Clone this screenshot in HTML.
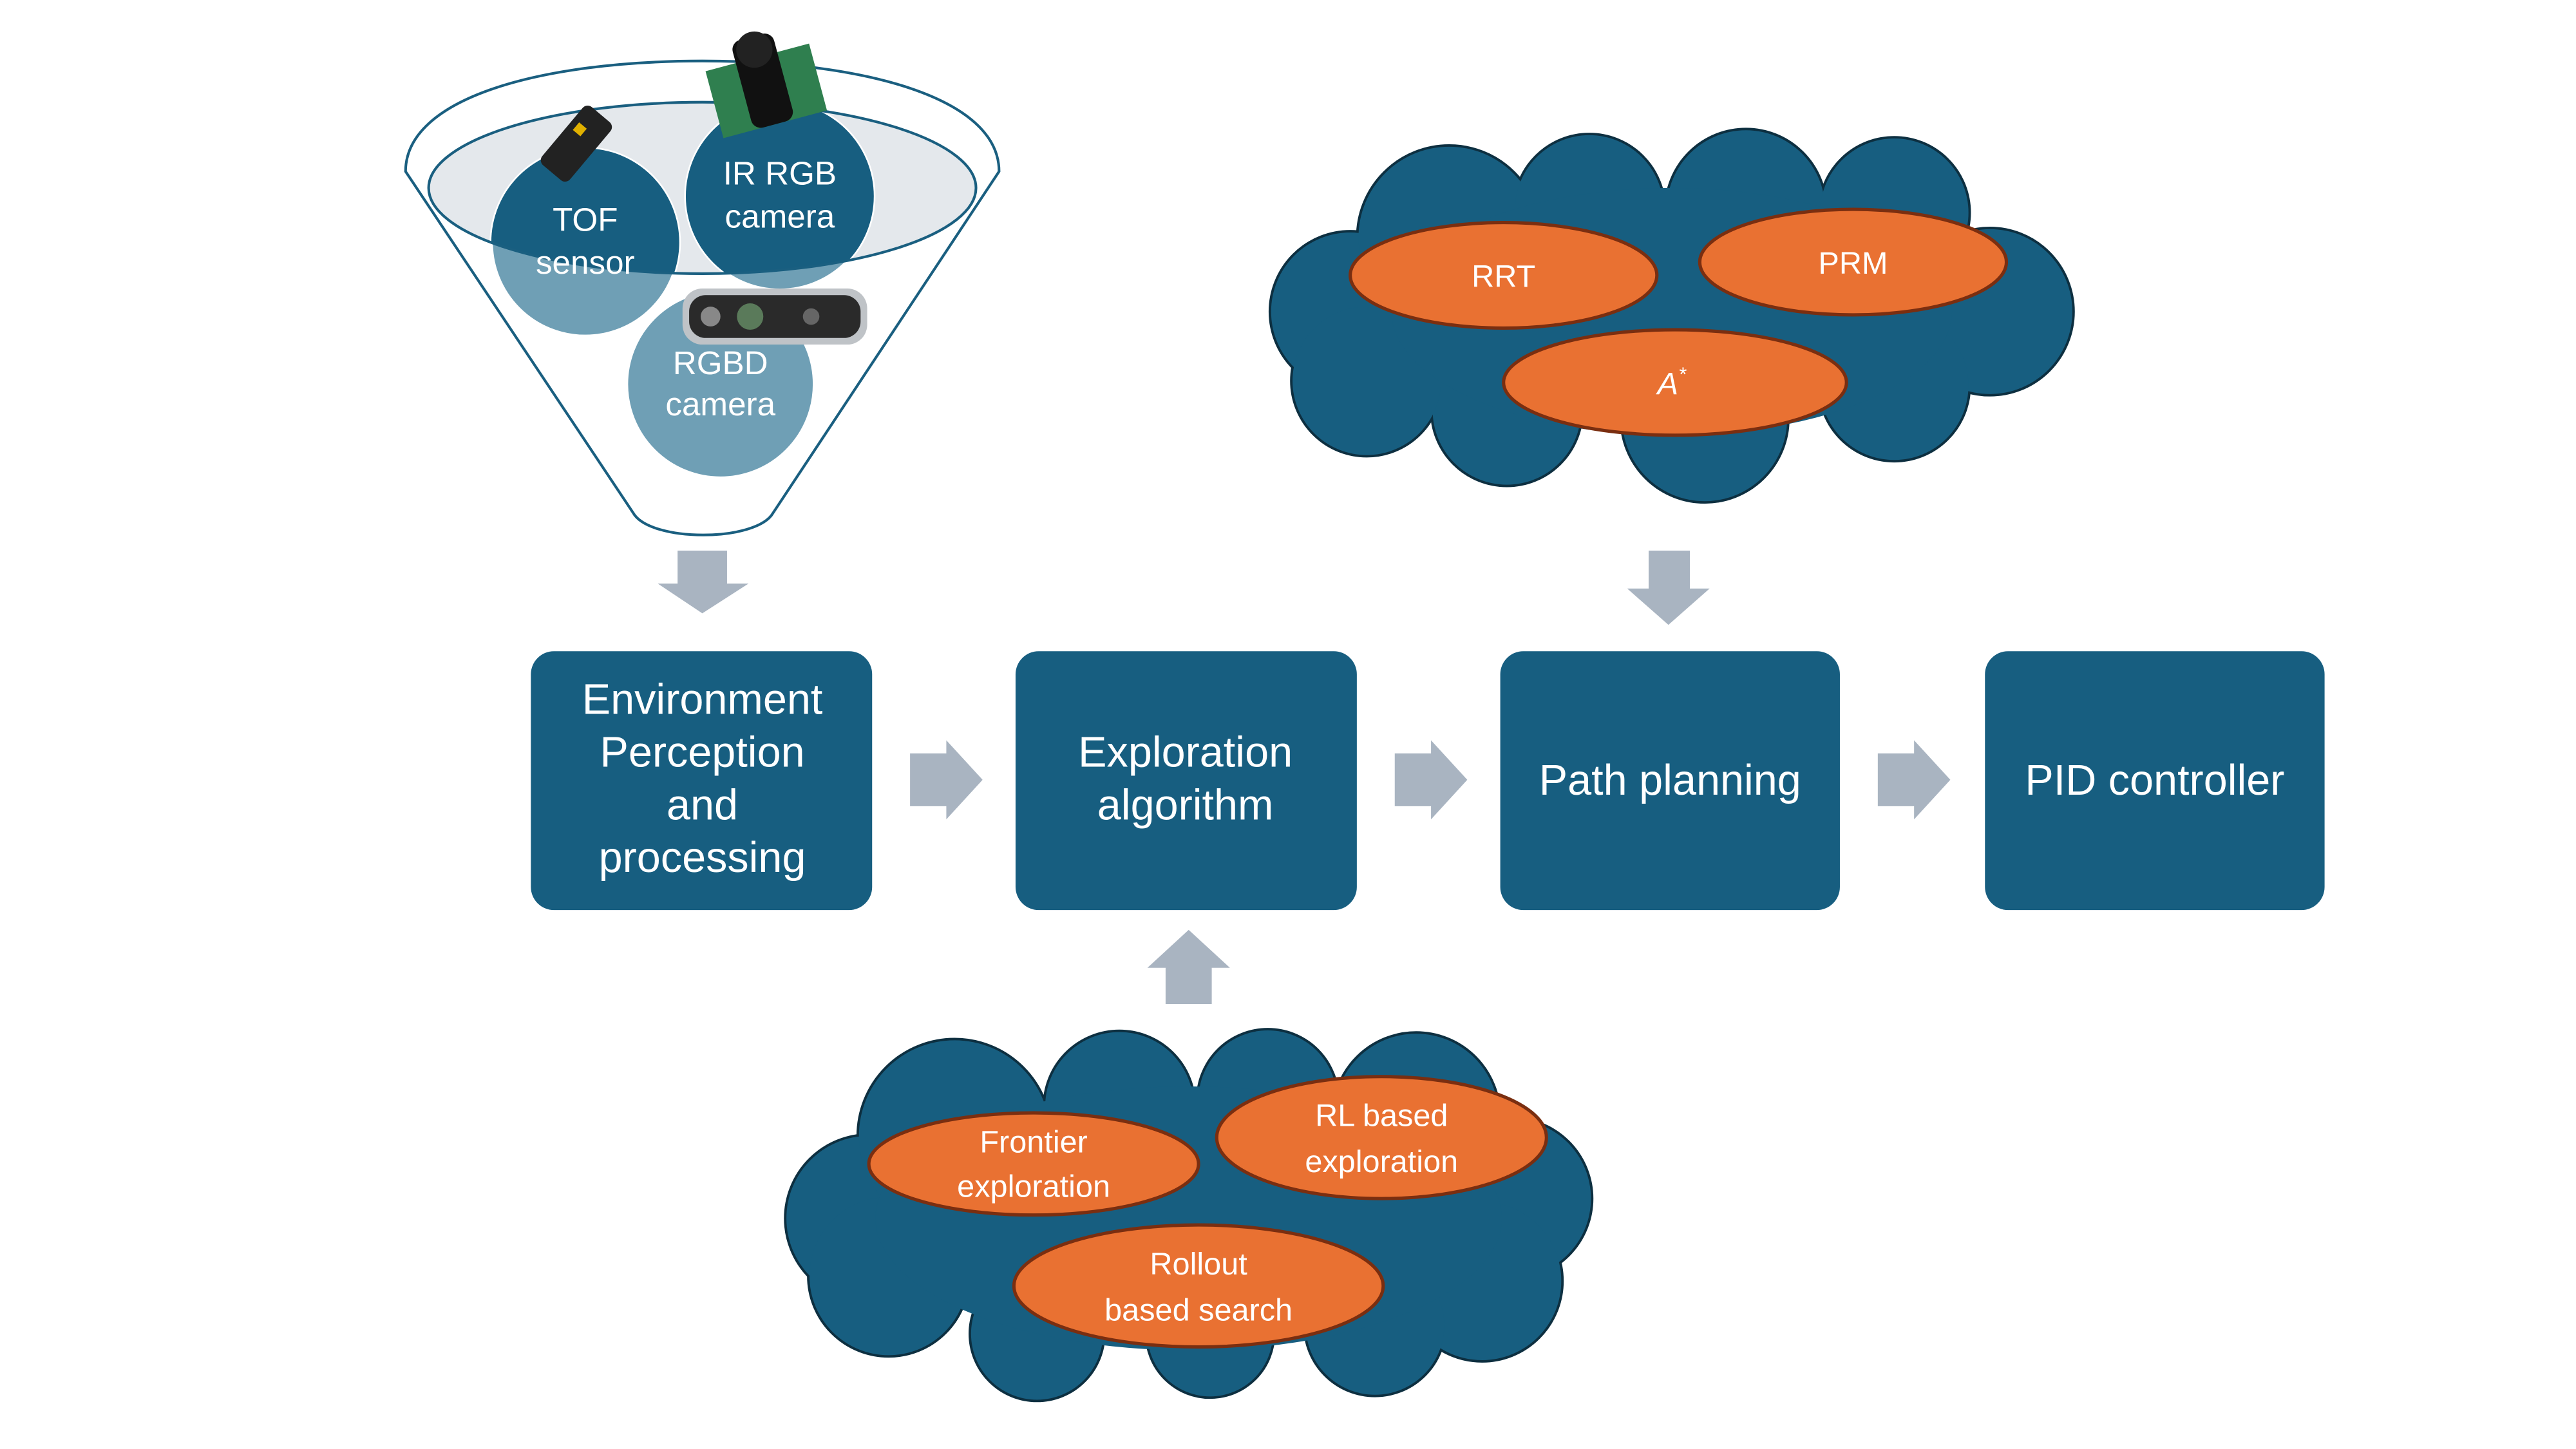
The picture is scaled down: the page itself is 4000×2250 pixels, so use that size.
<!DOCTYPE html>
<html><head><meta charset="utf-8"><style>
html,body{margin:0;padding:0;background:#fff;width:4000px;height:2250px;overflow:hidden}
svg{display:block}
text{font-family:"Liberation Sans",sans-serif;fill:#fff;text-anchor:middle}
</style></head><body>
<svg width="4000" height="2250" viewBox="0 0 1562.5 878.9" preserveAspectRatio="none" xmlns="http://www.w3.org/2000/svg">
<defs>
<clipPath id="ell"><ellipse cx="427" cy="115" rx="166" ry="52"/></clipPath>
</defs>
<g transform="translate(-1,-1)">
<path d="M247,105 C247,60 330,38 427,38 C524,38 607,60 607,105 L470,312 C460,330 395,330 385,312 Z" fill="#fff" stroke="#1a5f80" stroke-width="1.6"/>
<ellipse cx="427" cy="115" rx="166" ry="52" fill="#e4e8ec"/>
<g stroke="#fff" stroke-width="2">
<circle cx="356" cy="148" r="57" fill="#6f9fb5"/>
<circle cx="474" cy="120" r="57" fill="#6f9fb5"/>
<circle cx="438" cy="234" r="57" fill="#6f9fb5"/>
</g>
<g clip-path="url(#ell)">
<circle cx="356" cy="148" r="57" fill="#175e80"/>
<circle cx="474" cy="120" r="57" fill="#175e80"/>
</g>
<ellipse cx="427" cy="115" rx="166" ry="52" fill="none" stroke="#1a5f80" stroke-width="1.6"/>
<text x="356" y="141" font-size="20">TOF</text>
<text x="356" y="167" font-size="20">sensor</text>
<text x="474" y="113" font-size="20">IR RGB</text>
<text x="474" y="139" font-size="20">camera</text>
<text x="438" y="228" font-size="20">RGBD</text>
<text x="438" y="253" font-size="20">camera</text>
<rect x="415" y="176" width="112" height="34" rx="12" fill="#bfc3c7"/>
<rect x="419" y="180" width="104" height="26" rx="10" fill="#2a2a2a"/>
<circle cx="432" cy="193" r="6" fill="#888"/><circle cx="456" cy="193" r="8" fill="#5a7a5a"/><circle cx="493" cy="193" r="5" fill="#666"/>
<g transform="rotate(40 352 88)"><rect x="340" y="66" width="22" height="46" rx="4" fill="#222"/><rect x="344" y="78" width="6" height="6" fill="#e0b000"/></g>
<g transform="rotate(-15 466 55)"><rect x="433" y="35" width="65" height="42" fill="#2f7f4f"/><rect x="452" y="22" width="26" height="55" rx="6" fill="#111"/><circle cx="465" cy="30" r="11" fill="#222"/></g>
<path d="M412,335 H442 V355 H455 L427,373 L400,355 H412 Z" fill="#a9b4c1"/>
<path d="M1001,335 H1026 V358 H1038 L1013,380 L988,358 H1001 Z" fill="#a9b4c1"/>
<path d="M708,610 H736 V588 H747 L722,565 L697,588 H708 Z" fill="#a9b4c1"/>
<path d="M553,458 H575 V450 L597,474 L575,498 V490 H553 Z" fill="#a9b4c1"/>
<path d="M847,458 H869 V450 L891,474 L869,498 V490 H847 Z" fill="#a9b4c1"/>
<path d="M1140,458 H1162 V450 L1184,474 L1162,498 V490 H1140 Z" fill="#a9b4c1"/>
<g fill="#175e80">
<rect x="323" y="396" width="207" height="157" rx="14"/>
<rect x="617" y="396" width="207" height="157" rx="14"/>
<rect x="911" y="396" width="206" height="157" rx="14"/>
<rect x="1205" y="396" width="206" height="157" rx="14"/>
</g>
<g font-size="26">
<text x="427" y="434">Environment</text>
<text x="427" y="466">Perception</text>
<text x="427" y="498">and</text>
<text x="427" y="530">processing</text>
<text x="720" y="466">Exploration</text>
<text x="720" y="498">algorithm</text>
<text x="1014" y="483">Path planning</text>
<text x="1308" y="483">PID controller</text>
</g>
<g fill="#175e80" stroke="#0d2f40" stroke-width="3">
<circle cx="820" cy="190" r="48"/><circle cx="880" cy="145" r="55"/><circle cx="965" cy="128" r="45"/><circle cx="1060" cy="128" r="48"/><circle cx="1150" cy="130" r="45"/><circle cx="1208" cy="190" r="50"/><circle cx="1150" cy="235" r="45"/><circle cx="1035" cy="255" r="50"/><circle cx="915" cy="250" r="45"/><circle cx="830" cy="232" r="45"/>
</g>
<g fill="#175e80">
<circle cx="820" cy="190" r="48"/><circle cx="880" cy="145" r="55"/><circle cx="965" cy="128" r="45"/><circle cx="1060" cy="128" r="48"/><circle cx="1150" cy="130" r="45"/><circle cx="1208" cy="190" r="50"/><circle cx="1150" cy="235" r="45"/><circle cx="1035" cy="255" r="50"/><circle cx="915" cy="250" r="45"/><circle cx="830" cy="232" r="45"/>
<ellipse cx="1015" cy="190" rx="170" ry="75"/>
</g>
<g fill="#e97132" stroke="#7a2e10" stroke-width="2">
<ellipse cx="913" cy="168" rx="93" ry="32"/>
<ellipse cx="1125" cy="160" rx="93" ry="32"/>
<ellipse cx="1017" cy="233" rx="104" ry="32"/>
</g>
<text x="913" y="175" font-size="19">RRT</text>
<text x="1125" y="167" font-size="19">PRM</text>
<text x="1015" y="240" font-size="19" font-family="Liberation Serif" font-style="italic">A<tspan font-size="12" dy="-8">*</tspan></text>
<g fill="#175e80" stroke="#0d2f40" stroke-width="3">
<circle cx="528" cy="740" r="50"/><circle cx="580" cy="690" r="58"/><circle cx="680" cy="672" r="45"/><circle cx="770" cy="668" r="42"/><circle cx="860" cy="678" r="50"/><circle cx="918" cy="728" r="48"/><circle cx="900" cy="778" r="48"/><circle cx="835" cy="805" r="42"/><circle cx="735" cy="810" r="38"/><circle cx="630" cy="810" r="40"/><circle cx="540" cy="775" r="48"/>
</g>
<g fill="#175e80">
<circle cx="528" cy="740" r="50"/><circle cx="580" cy="690" r="58"/><circle cx="680" cy="672" r="45"/><circle cx="770" cy="668" r="42"/><circle cx="860" cy="678" r="50"/><circle cx="918" cy="728" r="48"/><circle cx="900" cy="778" r="48"/><circle cx="835" cy="805" r="42"/><circle cx="735" cy="810" r="38"/><circle cx="630" cy="810" r="40"/><circle cx="540" cy="775" r="48"/>
<ellipse cx="722" cy="740" rx="190" ry="80"/>
</g>
<g fill="#e97132" stroke="#7a2e10" stroke-width="2">
<ellipse cx="628" cy="707" rx="100" ry="31"/>
<ellipse cx="839" cy="691" rx="100" ry="37"/>
<ellipse cx="728" cy="781" rx="112" ry="37"/>
</g>
<g font-size="19">
<text x="628" y="700">Frontier</text>
<text x="628" y="727">exploration</text>
<text x="839" y="684">RL based</text>
<text x="839" y="712">exploration</text>
<text x="728" y="774">Rollout</text>
<text x="728" y="802">based search</text>
</g>
</g>
</svg>
</body></html>
